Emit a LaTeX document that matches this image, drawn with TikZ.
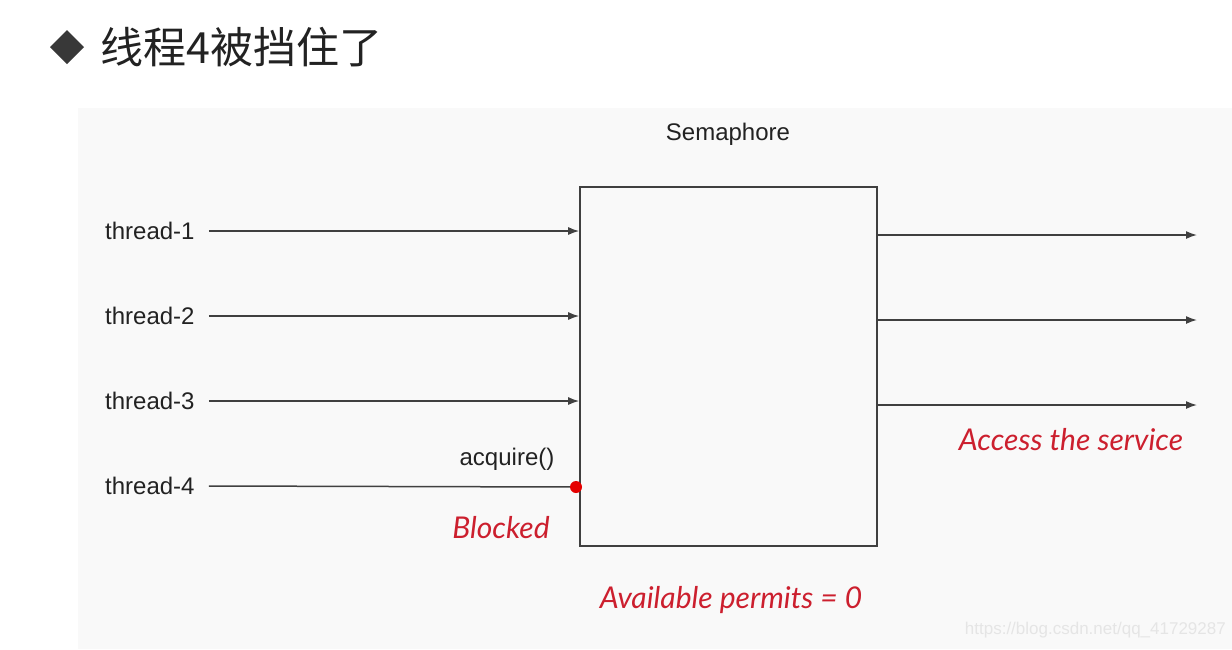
\documentclass[tikz,border=0pt]{standalone}
\usepackage{fontspec}
\setmainfont{Liberation Sans}
\newfontfamily\cjk{Noto Sans CJK SC}
\newfontfamily\hand{Lato Italic}
\usetikzlibrary{arrows.meta}
\definecolor{txt}{HTML}{222222}
\definecolor{ln}{HTML}{404040}
\definecolor{hred}{HTML}{CC1F2E}
\definecolor{panel}{HTML}{F9F9F9}
\tikzset{
  lbl/.style={inner sep=0pt, text=txt, font=\fontsize{24}{28}\selectfont},
  redlbl/.style={inner sep=0pt, text=hred, font=\hand\fontsize{30}{34}\selectfont},
  arr/.style={draw=ln, line width=1.5pt, -{Latex[length=11pt,width=8pt]}},
  plain/.style={draw=ln, line width=1.5pt},
}
\begin{document}
\begin{tikzpicture}[x=1pt,y=-1pt]
\fill[white] (0,0) rectangle (1232,649);
\useasboundingbox (0,0) rectangle (1232,649);
\fill[panel] (78,108) rectangle (1232,649);
% title
\fill[txt!90] (50,47) -- (67,30) -- (84,47) -- (67,64) -- cycle;
\node[inner sep=0pt, anchor=west, text=txt, font=\cjk\fontsize{43}{47}\selectfont] (title) at (100,47) {线程4被挡住了};
% semaphore box
\node[draw=ln, line width=1.6pt, minimum width=297, minimum height=359, inner sep=0pt] (box) at (728.5,366.5) {};
\node[lbl] (sem) at (728,134) {Semaphore};
% threads
\node[lbl, anchor=west] (t1) at (105,231) {thread-1};
\node[lbl, anchor=west] (t2) at (105,316) {thread-2};
\node[lbl, anchor=west] (t3) at (105,401) {thread-3};
\node[lbl, anchor=west] (t4) at (105,486) {thread-4};
\draw[arr] ([xshift=14pt]t1.east) -- (t1.east -| box.west);
\draw[arr] ([xshift=14pt]t2.east) -- (t2.east -| box.west);
\draw[arr] ([xshift=14pt]t3.east) -- (t3.east -| box.west);
\node[circle, fill=red!90!black, minimum size=12pt, inner sep=0pt] (dot) at (576,487) {};
\draw[plain] ([xshift=14pt]t4.east) -- (dot);
\node[lbl] (acq) at (507,459) {acquire()};
\node[redlbl] (blk) at (501,528) {Blocked};
% outputs
\coordinate (o1) at (1197,235);
\coordinate (o2) at (1197,320);
\coordinate (o3) at (1197,405);
\draw[arr] (o1 -| box.east) -- (o1);
\draw[arr] (o2 -| box.east) -- (o2);
\draw[arr] (o3 -| box.east) -- (o3);
\node[redlbl] (acc) at (1071,440) {Access the service};
\node[redlbl] (avail) at (731,600) {Available permits = 0};
\node[inner sep=0pt, anchor=east, text=black!10, font=\fontsize{17}{20}\selectfont] (wm) at (1226,630) {https://blog.csdn.net/qq\_41729287};
\end{tikzpicture}
\end{document}
